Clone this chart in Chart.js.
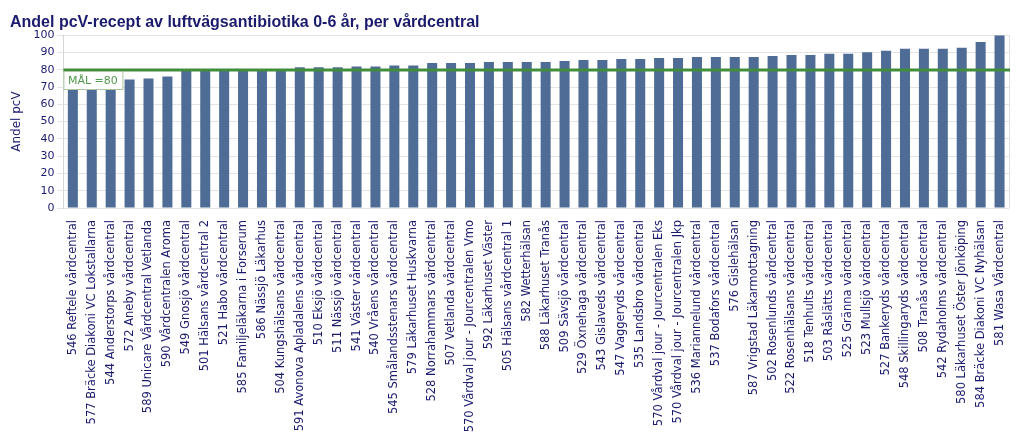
<!DOCTYPE html>
<html>
<head>
<meta charset="utf-8">
<script src="https://cdn.jsdelivr.net/npm/chart.js@4/dist/chart.umd.min.js"></script>
<style>
  body { margin: 0; background: #fff; }
</style>
</head>
<body>
<canvas id="pcvChart" width="1023" height="434"></canvas>
<script>
const categories = [
  "546 Reftele vårdcentral",
  "577 Bräcke Diakoni VC Lokstallarna",
  "544 Anderstorps vårdcentral",
  "572 Aneby vårdcentral",
  "589 Unicare Vårdcentral Vetlanda",
  "590 Vårdcentralen Aroma",
  "549 Gnosjö vårdcentral",
  "501 Hälsans vårdcentral 2",
  "521 Habo vårdcentral",
  "585 Familjeläkarna i Forserum",
  "586 Nässjö Läkarhus",
  "504 Kungshälsans vårdcentral",
  "591 Avonova Apladalens vårdcentral",
  "510 Eksjö vårdcentral",
  "511 Nässjö vårdcentral",
  "541 Väster vårdcentral",
  "540 Vråens vårdcentral",
  "545 Smålandsstenars vårdcentral",
  "579 Läkarhuset Huskvarna",
  "528 Norrahammars vårdcentral",
  "507 Vetlanda vårdcentral",
  "570 Vårdval jour - Jourcentralen Vmo",
  "592 Läkarhuset Väster",
  "505 Hälsans vårdcentral 1",
  "582 Wetterhälsan",
  "588 Läkarhuset Tranås",
  "509 Sävsjö vårdcentral",
  "529 Öxnehaga vårdcentral",
  "543 Gislaveds vårdcentral",
  "547 Vaggeryds vårdcentral",
  "535 Landsbro vårdcentral",
  "570 Vårdval jour - Jourcentralen Eks",
  "570 Vårdval jour - Jourcentralen Jkp",
  "536 Mariannelund vårdcentral",
  "537 Bodafors vårdcentral",
  "576 Gislehälsan",
  "587 Vrigstad Läkarmottagning",
  "502 Rosenlunds vårdcentral",
  "522 Rosenhälsans vårdcentral",
  "518 Tenhults vårdcentral",
  "503 Råslätts vårdcentral",
  "525 Gränna vårdcentral",
  "523 Mullsjö vårdcentral",
  "527 Bankeryds vårdcentral",
  "548 Skillingaryds vårdcentral",
  "508 Tranås vårdcentral",
  "542 Rydaholms vårdcentral",
  "580 Läkarhuset Öster Jönköping",
  "584 Bräcke Diakoni VC Nyhälsan",
  "581 Wasa Vårdcentral"
];

const values = [
  70.5, 71.5, 73.0, 74.3, 74.9, 76.1, 79.5, 79.5, 79.6, 79.7,
  79.8, 79.9, 81.4, 81.4, 81.4, 81.9, 81.9, 82.5, 82.5, 83.9,
  83.9, 83.9, 84.5, 84.5, 84.5, 84.5, 85.1, 85.6, 85.6, 86.2,
  86.2, 86.8, 86.8, 87.4, 87.4, 87.4, 87.4, 88.0, 88.6, 88.6,
  89.2, 89.2, 90.2, 91.0, 92.2, 92.2, 92.2, 92.7, 96.1, 100
];

const yTicks = [0, 10, 20, 30, 40, 50, 60, 70, 80, 90, 100];
const goalValue = 80;
const goalLabel = "MÅL =80";

const navy = "#1b1b6e";

// target line, label box and right frame edge
const goalLine = {
  id: "goalLine",
  afterDatasetsDraw(chart) {
    const { ctx, chartArea } = chart;
    const y = Math.round(chart.scales.y.getPixelForValue(goalValue));
    ctx.save();
    ctx.strokeStyle = "#dedede";
    ctx.lineWidth = 1;
    ctx.beginPath();
    ctx.moveTo(chartArea.right + 0.5, chartArea.top);
    ctx.lineTo(chartArea.right + 0.5, chartArea.bottom);
    ctx.stroke();

    ctx.strokeStyle = "#418d3b";
    ctx.lineWidth = 3;
    ctx.beginPath();
    ctx.moveTo(chartArea.left, y);
    ctx.lineTo(chartArea.right + 1, y);
    ctx.stroke();

    ctx.font = "11px 'DejaVu Sans'";
    const w = Math.round(ctx.measureText(goalLabel).width) + 9;
    const bx = chartArea.left + 0.5;
    const by = y + 1.5;
    ctx.fillStyle = "#ffffff";
    ctx.fillRect(bx, by, w, 18);
    ctx.strokeStyle = "#a9c6a2";
    ctx.lineWidth = 1;
    ctx.strokeRect(bx, by, w, 18);
    ctx.fillStyle = "#4f9a4a";
    ctx.textBaseline = "middle";
    ctx.fillText(goalLabel, bx + 4, by + 9.5);
    ctx.restore();
  }
};

new Chart(document.getElementById("pcvChart"), {
  type: "bar",
  data: {
    labels: categories,
    datasets: [
      {
        label: "Andel pcV",
        data: values,
        backgroundColor: "#4f6c96",
        borderWidth: 0,
        barPercentage: 0.53,
        categoryPercentage: 1,
      },
    ],
  },
  options: {
    responsive: false,
    animation: false,
    layout: { padding: { left: 10, right: 14, top: 0, bottom: 0 } },
    plugins: {
      legend: { display: false },
      tooltip: { enabled: false },
      title: {
        display: true,
        text: "Andel pcV-recept av luftvägsantibiotika 0-6 år, per vårdcentral",
        align: "start",
        color: navy,
        font: { family: "'Liberation Sans', Arial", size: 16, weight: "bold" },
        padding: { top: 13, bottom: 3 },
      },
    },
    scales: {
      x: {
        grid: { display: false },
        border: { display: false },
        // long rotated names need more than half the height
        afterFit: (axis) => {
          axis.height = 226;
        },
        ticks: {
          autoSkip: false,
          maxRotation: 90,
          minRotation: 90,
          color: navy,
          padding: 4,
          font: { family: "'DejaVu Sans'", size: 11.5 },
        },
      },
      y: {
        min: 0,
        max: 100,
        afterBuildTicks: (axis) => {
          axis.ticks = yTicks.map((v) => ({ value: v }));
        },
        grid: { color: "#e4e4e4", tickLength: 6 },
        border: { color: "#d6d6d6" },
        title: {
          display: true,
          text: "Andel pcV",
          color: navy,
          font: { family: "'DejaVu Sans'", size: 12 },
          padding: { top: 0, bottom: 6 },
        },
        ticks: {
          color: navy,
          padding: 3,
          font: { family: "'DejaVu Sans'", size: 11 },
        },
      },
    },
  },
  plugins: [goalLine],
});
</script>
</body>
</html>
